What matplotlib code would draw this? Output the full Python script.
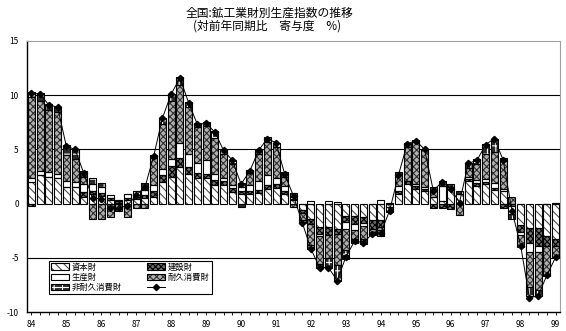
import numpy as np
import matplotlib
matplotlib.use("Agg")
import matplotlib.pyplot as plt
from matplotlib.patches import Patch
from matplotlib.lines import Line2D
from matplotlib.legend_handler import HandlerTuple

plt.rcParams['font.family'] = ['Noto Sans CJK JP', 'DejaVu Sans']
plt.rcParams['hatch.linewidth'] = 0.8

# quarterly contributions (% points), 84Q1 .. 99Q1
years = [str(y) for y in range(84, 100)]
capital = [2.0, 2.6, 2.45, 2.35, 1.55, 1.5, 0.65, 0.9, 0.7, 0.3,
           0.1, 0.3, 0.4, 0.5, 0.6, 1.97, 2.44, 3.36, 2.75, 2.38,
           2.4, 1.7, 1.7, 1.1, 0.9, 0.9, 1.0, 1.36, 1.4, 0.9,
           0.3, -0.6, -1.4, -2.2, -2.2, -2.35, -1.1, -1.1, -1.2, -1.55,
           -1.55, -0.3, 0.9, 1.8, 1.35, 1.2, 0.6, 0.2, 1.5, 0.9,
           2.1, 1.66, 1.8, 1.3, 1.2, 0.0, -2.0, -2.25, -2.25, -2.96,
           -3.27]
construction = [-0.2, 0.0, 0.0, 0.0, 0.0, 0.0, 0.4, 0.3, 0.3, 0.2,
                0.1, 0.2, 0.2, 0.3, 0.6, 0.68, 1.06, 0.84, 0.65, 0.42,
                0.3, 0.5, 0.4, 0.35, 0.3, 0.25, 0.25, 0.4, 0.4, 0.3,
                0.1, -0.3, -0.5, -0.6, -0.7, -0.45, -0.6, -0.8, -0.6, -0.75,
                -0.6, 0.0, 0.3, 0.3, 0.25, 0.15, -0.4, -0.4, -0.5, 0.0,
                0.2, 0.2, 0.15, 0.15, -0.4, -0.25, -0.6, -1.35, -1.65, -0.94,
                -0.6]
producer = [0.4, 0.45, 0.5, 0.4, 0.55, 0.45, 0.8, 0.6, 0.5, 0.3,
            0.1, 0.4, 0.6, 0.5, 0.55, 0.55, 0.6, 1.4, 1.2, 0.9,
            1.3, 0.5, 0.3, 0.3, 0.35, 0.55, 0.85, 0.84, 0.6, 0.4,
            0.2, 0.0, 0.25, -0.2, 0.25, 0.15, -0.6, -0.5, -0.3, 0.0,
            0.3, 0.1, 0.4, 0.0, 0.22, 0.15, 0.0, 1.45, 0.0, 0.0,
            0.2, 0.3, 0.3, 0.45, 0.15, -0.75, -0.3, -0.9, -0.6, 0.0,
            0.1]
durable = [7.4, 6.45, 5.65, 5.7, 2.35, 2.15, 0.6, -1.4, -1.4, -1.2,
           -0.65, -1.25, -0.45, -0.4, 2.45, 4.17, 5.4, 5.35, 4.3, 3.4,
           3.2, 3.35, 2.2, 1.9, 0.35, 1.1, 2.5, 3.1, 2.8, 0.9,
           -0.3, -0.6, -1.9, -2.6, -2.1, -2.9, -2.0, -0.9, -1.2, -0.3,
           -0.3, 0.0, 1.0, 3.1, 3.85, 3.4, 0.7, 0.0, 0.0, -1.05,
           0.8, 1.5, 2.3, 2.9, 2.6, 0.65, -1.1, -3.2, -3.5, -2.8,
           -1.15]
nondurable = [0.5, 0.7, 0.6, 0.5, 0.95, 0.9, 0.6, 0.55, 0.4, 0.0,
              0.0, 0.0, 0.0, 0.6, 0.25, 0.55, 0.6, 0.75, 0.45, 0.3,
              0.3, 0.65, 0.4, 0.4, -0.34, 0.3, 0.4, 0.4, 0.4, 0.4,
              0.4, -0.25, -0.4, -0.3, -0.95, -1.4, -0.8, -0.3, -0.4, -0.3,
              -0.5, -0.5, 0.3, 0.4, 0.22, 0.15, 0.2, 0.45, 0.3, 0.3,
              0.4, 0.45, 0.95, 1.2, 0.3, -0.4, 0.0, -0.8, -0.5, 0.0,
              0.0]
total = [10.2, 10.1, 9.1, 8.9, 5.3, 5.0, 2.8, 0.5, 0.45, -0.4,
         -0.4, -0.2, 0.8, 1.5, 4.4, 7.9, 10.1, 11.6, 9.3, 7.3,
         7.4, 6.6, 4.9, 4.0, 1.8, 3.0, 4.9, 6.0, 5.6, 2.7,
         0.7, -1.75, -4.2, -5.9, -5.9, -7.1, -4.9, -3.45, -3.6, -2.8,
         -2.7, -0.65, 2.6, 5.5, 5.8, 5.0, 1.2, 2.0, 1.35, 0.1,
         3.7, 4.0, 5.45, 6.0, 4.0, -0.65, -3.9, -8.7, -8.5, -6.6,
         -4.95]

# name, values, face colour, hatch, hatch colour
series = [
    ("資本財", capital, "white", "\\\\\\\\", "#505050"),
    ("建設財", construction, "#707070", "xxxxxx", "black"),
    ("生産財", producer, "white", "", "black"),
    ("耐久消費財", durable, "#b0b0b0", "xxxxx", "#303030"),
    ("非耐久消費財", nondurable, "#2a2a2a", "++", "white"),
]

x = np.arange(len(total))
width = 0.8

fig = plt.figure(figsize=(5.66, 3.31), dpi=100)
ax = fig.add_axes([27 / 566, 1 - 312 / 331, 533 / 566, 271 / 331])

pos_base = np.zeros(len(x))
neg_base = np.zeros(len(x))
handles = []
for name, vals, face, hatch, hcol in series:
    v = np.array(vals, dtype=float)
    base = np.where(v >= 0, pos_base, neg_base)
    # fill + hatch first, then the black outline on top
    ax.bar(x, v, width, bottom=base, color=face, hatch=hatch,
           edgecolor=hcol, linewidth=0, zorder=2)
    ax.bar(x, v, width, bottom=base, fill=False,
           edgecolor="black", linewidth=0.8, zorder=3)
    pos_base += np.where(v >= 0, v, 0)
    neg_base += np.where(v < 0, v, 0)
    handles.append((Patch(facecolor=face, hatch=hatch, edgecolor=hcol, linewidth=0),
                    Patch(fill=False, edgecolor="black", linewidth=0.8)))

ax.plot(x, total, color="black", linewidth=0.7, marker="D",
        markersize=3.2, zorder=4)
line_handle = Line2D([], [], color="black", linewidth=0.7, marker="D", markersize=3.2)

ax.set_xlim(-0.5, len(x) - 0.5)
ax.set_ylim(-10, 15)
ax.set_yticks([-10, -5, 0, 5, 10, 15])
ax.set_yticklabels(["-10", "-5", "0", "5", "10", "15"])
for yv in (-5, 5, 10):
    ax.axhline(yv, color="black", linewidth=0.8, zorder=1)

ax.set_xticks(x)
ax.set_xticklabels([years[i // 4] if i % 4 == 0 else "" for i in x])
ax.tick_params(axis="x", length=2, width=0.6, pad=4, labelsize=6)
ax.tick_params(axis="y", length=0, pad=6, labelsize=6)

for side in ("top", "right"):
    ax.spines[side].set_color("#a0a0a0")
    ax.spines[side].set_linewidth(0.8)
for side in ("left", "bottom"):
    ax.spines[side].set_linewidth(1.0)

# legend filled row by row
labels = [s[0] for s in series] + [""]
all_handles = handles + [line_handle]
order = [0, 2, 4, 1, 3, 5]
leg = ax.legend([all_handles[i] for i in order], [labels[i] for i in order],
                handler_map={tuple: HandlerTuple(ndivide=1, pad=0)},
                ncol=2, loc="lower left", mode="expand",
                bbox_to_anchor=(0.034, 0.052, 0.32, 0.095),
                fontsize=6, frameon=True, fancybox=False, framealpha=1,
                edgecolor="black", borderpad=0.2, labelspacing=0.15,
                handlelength=2.2, handleheight=0.8, handletextpad=0.3,
                columnspacing=1.0)
leg.get_frame().set_linewidth(0.8)
leg.set_zorder(5)

fig.text(269 / 566, 1 - 13 / 331, "全国:鉱工業財別生産指数の推移",
         ha="center", va="center", fontsize=8.5)
fig.text(267 / 566, 1 - 26 / 331, "(対前年同期比　寄与度　%)",
         ha="center", va="center", fontsize=8.5)

fig.savefig("out.png", dpi=100)
